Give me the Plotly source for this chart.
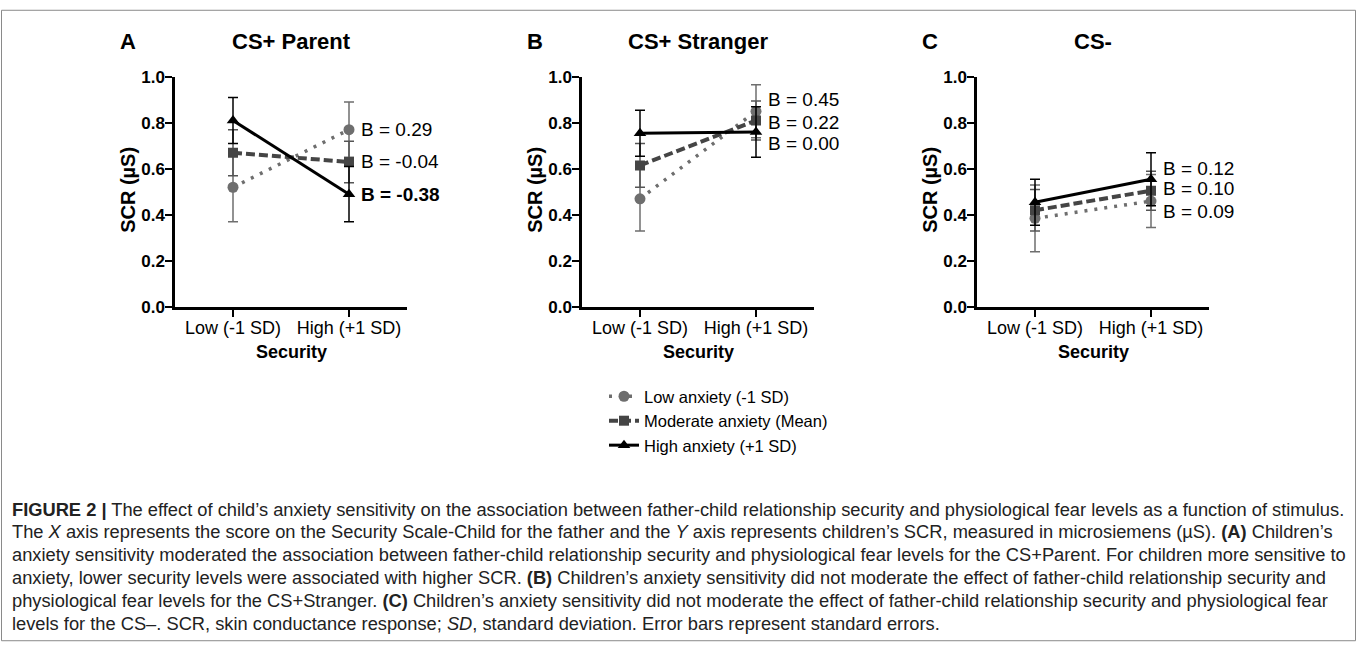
import plotly.graph_objects as go

W, H = 1357, 652

# ---------------- data ----------------
x_cats = [0, 1]
x_ticklabels = ["Low (-1 SD)", "High (+1 SD)"]
y_ticks = [0.0, 0.2, 0.4, 0.6, 0.8, 1.0]
y_ticklabels = ["0.0", "0.2", "0.4", "0.6", "0.8", "1.0"]

panel_letters = ["A", "B", "C"]
panel_titles = ["CS+ Parent", "CS+ Stranger", "CS-"]
series_names = ["Low anxiety (-1 SD)", "Moderate anxiety (Mean)", "High anxiety (+1 SD)"]

# values [Low security, High security] and standard errors
parent_low = [0.52, 0.77]
parent_low_se = [0.15, 0.12]
parent_mod = [0.67, 0.63]
parent_mod_se = [0.10, 0.09]
parent_high = [0.81, 0.49]
parent_high_se = [0.10, 0.12]

stranger_low = [0.47, 0.85]
stranger_low_se = [0.14, 0.115]
stranger_mod = [0.615, 0.81]
stranger_mod_se = [0.095, 0.085]
stranger_high = [0.755, 0.76]
stranger_high_se = [0.10, 0.11]

csminus_low = [0.385, 0.46]
csminus_low_se = [0.145, 0.115]
csminus_mod = [0.42, 0.505]
csminus_mod_se = [0.09, 0.085]
csminus_high = [0.455, 0.555]
csminus_high_se = [0.10, 0.115]

b_labels_parent = ["B = 0.29", "B = -0.04", "<b>B = -0.38</b>"]
b_labels_stranger = ["B = 0.45", "B = 0.22", "B = 0.00"]
b_labels_csminus = ["B = 0.12", "B = 0.10", "B = 0.09"]

# ---------------- layout helpers ----------------
def px(p):
    return p / W

def py(p):
    # target pixel row -> paper fraction (compensates the vertical placement seen on screen)
    spec = (p - 9.3) / 0.97
    return 1 - spec / H

panels = [
    dict(vals=[(parent_low, parent_low_se), (parent_mod, parent_mod_se), (parent_high, parent_high_se)],
         labels=b_labels_parent, label_y=[0.77, 0.63, 0.49], xdom=(175, 407)),
    dict(vals=[(stranger_low, stranger_low_se), (stranger_mod, stranger_mod_se), (stranger_high, stranger_high_se)],
         labels=b_labels_stranger, label_y=[0.90, 0.80, 0.71], xdom=(582, 814)),
    dict(vals=[(csminus_low, csminus_low_se), (csminus_mod, csminus_mod_se), (csminus_high, csminus_high_se)],
         labels=b_labels_csminus, label_y=[0.60, 0.515, 0.415], xdom=(977, 1209)),
]

styles = [
    dict(color="#6e6e6e", dash="3px,7px", width=3.5, symbol="circle", size=11, ecolor="#6e6e6e"),
    dict(color="#454545", dash="9px,4px", width=4, symbol="square", size=10, ecolor="#555555"),
    dict(color="#000000", dash="solid", width=3, symbol="triangle-up", size=11, ecolor="#000000"),
]

FONT = "Arial, Liberation Sans, sans-serif"
fig = go.Figure()
annotations = []
ytop, ybot = 77, 307

for i, p in enumerate(panels):
    xa = "x" if i == 0 else f"x{i+1}"
    ya = "y" if i == 0 else f"y{i+1}"
    for j, (vals, se) in enumerate(p["vals"]):
        s = styles[j]
        fig.add_trace(go.Scatter(
            x=x_cats, y=vals, xaxis=xa, yaxis=ya,
            mode="lines+markers", name=series_names[j], showlegend=(i == 0),
            line=dict(color=s["color"], dash=s["dash"], width=s["width"]),
            marker=dict(symbol=s["symbol"], size=s["size"], color=s["color"]),
            error_y=dict(type="data", array=se, visible=True, color=s["ecolor"],
                         thickness=1.5, width=5),
        ))
    for lab, ly in zip(p["labels"], p["label_y"]):
        annotations.append(dict(x=1, y=ly, xref=xa, yref=ya, text=lab, showarrow=False,
                                xanchor="left", yanchor="middle", xshift=10,
                                font=dict(family=FONT, size=19, color="#000")))
    x0, x1 = p["xdom"]
    axis_common = dict(showline=True, linewidth=2.5, linecolor="black", ticks="outside",
                       ticklen=7, tickwidth=2, tickcolor="black", showgrid=False,
                       zeroline=False, mirror=False)
    fig.update_layout(**{
        ("xaxis" if i == 0 else f"xaxis{i+1}"): dict(
            domain=[px(x0), px(x1)], range=[-0.5, 1.5], tickvals=x_cats,
            ticktext=x_ticklabels, anchor=ya, ticklabelstandoff=-4,
            tickfont=dict(family=FONT, size=18, color="#000"), **axis_common),
        ("yaxis" if i == 0 else f"yaxis{i+1}"): dict(
            domain=[py(ybot), py(ytop)], range=[0, 1.0], tickvals=y_ticks,
            ticktext=[f"<b>{t}</b>" for t in y_ticklabels], anchor=xa, ticklabelstandoff=-3,
            tickfont=dict(family=FONT, size=17, color="#000"), **axis_common),
    })
    cx = (x0 + x1) / 2
    annotations.append(dict(x=px(x0 - 47), y=py(42), xref="paper", yref="paper",
                            text=f"<b>{panel_letters[i]}</b>", showarrow=False,
                            xanchor="center", yanchor="middle",
                            font=dict(family=FONT, size=22, color="#000")))
    annotations.append(dict(x=px(cx), y=py(42), xref="paper", yref="paper",
                            text=f"<b>{panel_titles[i]}</b>", showarrow=False,
                            xanchor="center", yanchor="middle",
                            font=dict(family=FONT, size=22, color="#000")))
    annotations.append(dict(x=px(x0 - 47), y=py(190), xref="paper", yref="paper",
                            text="<b>SCR (µS)</b>", showarrow=False, textangle=-90,
                            xanchor="center", yanchor="middle",
                            font=dict(family=FONT, size=20, color="#000")))
    annotations.append(dict(x=px(cx), y=py(352), xref="paper", yref="paper",
                            text="<b>Security</b>", showarrow=False,
                            xanchor="center", yanchor="middle",
                            font=dict(family=FONT, size=18, color="#000")))

caption_lines = [
    "<b>FIGURE 2 |</b> The effect of child’s anxiety sensitivity on the association between father-child relationship security and physiological fear levels as a function of stimulus.",
    "The <i>X</i> axis represents the score on the Security Scale-Child for the father and the <i>Y</i> axis represents children’s SCR, measured in microsiemens (µS). <b>(A)</b> Children’s",
    "anxiety sensitivity moderated the association between father-child relationship security and physiological fear levels for the CS+Parent. For children more sensitive to",
    "anxiety, lower security levels were associated with higher SCR. <b>(B)</b> Children’s anxiety sensitivity did not moderate the effect of father-child relationship security and",
    "physiological fear levels for the CS+Stranger. <b>(C)</b> Children’s anxiety sensitivity did not moderate the effect of father-child relationship security and physiological fear",
    "levels for the CS–. SCR, skin conductance response; <i>SD</i>, standard deviation. Error bars represent standard errors.",
]
for k, line in enumerate(caption_lines):
    annotations.append(dict(x=px(10), y=py(509 + k * 22.8), xref="paper", yref="paper",
                            text=line, showarrow=False, xanchor="left", yanchor="middle",
                            font=dict(family=FONT, size=18.3, color="#222")))

fig.update_layout(
    width=W, height=H, margin=dict(l=0, r=0, t=0, b=0),
    paper_bgcolor="white", plot_bgcolor="white",
    annotations=annotations,
    showlegend=True,
    legend=dict(x=px(604), y=py(379), xanchor="left", yanchor="top",
                font=dict(family=FONT, size=16.5, color="#000"),
                itemwidth=30, tracegroupgap=0, bgcolor="rgba(0,0,0,0)"),
    shapes=[dict(type="rect", xref="paper", yref="paper", x0=px(1.5), x1=px(W - 1.5),
                 y0=0.002, y1=0.998, line=dict(color="#8a8a8a", width=1))],
)

post = (
    "document.documentElement.style.margin='0';document.documentElement.style.padding='0';"
    "document.documentElement.style.overflow='hidden';"
    "document.body.style.margin='0';document.body.style.padding='0';document.body.style.overflow='hidden';"
    "var gd=document.getElementsByClassName('plotly-graph-div')[0];"
    "gd.style.position='absolute';gd.style.top='0px';gd.style.left='0px';"
)
fig.write_html("out.html", config={"displayModeBar": False}, post_script=post)
